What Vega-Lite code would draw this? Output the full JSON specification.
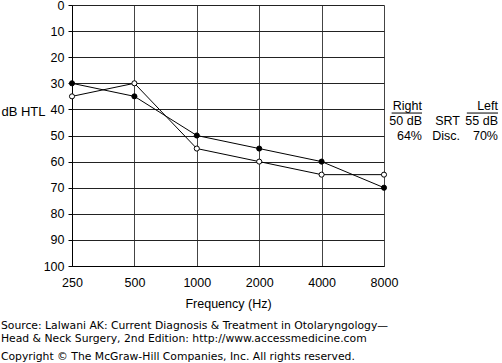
{
  "$schema": "https://vega.github.io/schema/vega-lite/v6.json",
  "padding": {"left": 0, "top": -1, "right": 0, "bottom": 0},
  "bounds": "flush",
  "spacing": 5,
  "config": {"font": "Liberation Sans", "view": {"stroke": null}},
  "title": {
    "text": ["Source: Lalwani AK: Current Diagnosis & Treatment in Otolaryngology—", "Head & Neck Surgery, 2nd Edition: http://www.accessmedicine.com"],
    "subtitle": "Copyright © The McGraw-Hill Companies, Inc. All rights reserved.",
    "orient": "bottom",
    "anchor": "start",
    "font": "DejaVu Sans",
    "fontSize": 10.8,
    "fontWeight": "normal",
    "lineHeight": 13,
    "color": "black",
    "subtitleFont": "DejaVu Sans",
    "subtitleFontSize": 10.8,
    "subtitleColor": "black",
    "subtitlePadding": 7,
    "offset": 10
  },
  "hconcat": [
    {
      "width": 312,
      "height": 261,
      "data": {"values": [
        {"freq": 250, "dB": 30, "ear": "left"},
        {"freq": 500, "dB": 35, "ear": "left"},
        {"freq": 1000, "dB": 50, "ear": "left"},
        {"freq": 2000, "dB": 55, "ear": "left"},
        {"freq": 4000, "dB": 60, "ear": "left"},
        {"freq": 8000, "dB": 70, "ear": "left"},
        {"freq": 250, "dB": 35, "ear": "right"},
        {"freq": 500, "dB": 30, "ear": "right"},
        {"freq": 1000, "dB": 55, "ear": "right"},
        {"freq": 2000, "dB": 60, "ear": "right"},
        {"freq": 4000, "dB": 65, "ear": "right"},
        {"freq": 8000, "dB": 65, "ear": "right"}
      ]},
      "encoding": {
        "x": {
          "field": "freq", "type": "quantitative",
          "scale": {"type": "log", "base": 2, "domain": [250, 8000], "nice": false},
          "axis": {
            "values": [250, 500, 1000, 2000, 4000, 8000], "format": "d",
            "grid": true, "gridColor": "#444", "gridOpacity": 1, "gridWidth": 1,
            "ticks": false, "domainColor": "black", "labelColor": "black",
            "labelFont": "Liberation Sans", "labelFlush": false,
            "labelFontSize": 12.5, "labelPadding": 10,
            "title": "Frequency (Hz)", "titleFont": "Liberation Sans", "titleFontSize": 12.5, "titleFontWeight": "normal",
            "titleColor": "black", "titlePadding": 9
          }
        },
        "y": {
          "field": "dB", "type": "quantitative",
          "scale": {"domain": [0, 100], "reverse": true, "nice": false},
          "axis": {
            "values": [0, 10, 20, 30, 40, 50, 60, 70, 80, 90, 100],
            "grid": true, "gridColor": "#222", "gridOpacity": 1, "gridWidth": 1,
            "tickSize": 4, "tickColor": "black", "domainColor": "black",
            "labelColor": "black", "labelFont": "Liberation Sans", "labelFontSize": 12.5, "labelPadding": 4,
            "title": "dB HTL", "titleAngle": 0, "titleAlign": "right", "titleBaseline": "middle",
            "titleX": -27, "titleY": 106, "titleFont": "Liberation Sans", "titleFontSize": 13, "titleFontWeight": "normal",
            "titleColor": "black"
          }
        }
      },
      "layer": [
        {
          "mark": {"type": "line", "color": "black", "strokeWidth": 1},
          "encoding": {"detail": {"field": "ear"}}
        },
        {
          "mark": {"type": "point", "filled": true, "size": 26, "stroke": "black", "strokeWidth": 1, "opacity": 1},
          "encoding": {
            "fill": {"field": "ear", "type": "nominal", "scale": {"domain": ["left", "right"], "range": ["black", "white"]}, "legend": null}
          }
        }
      ]
    },
    {
      "width": 114,
      "height": 261,
      "layer": [
        {
          "data": {"values": [
            {"col": 1, "row": 1, "t": "Right"},
            {"col": 1, "row": 2, "t": "50 dB"},
            {"col": 1, "row": 3, "t": "64%"},
            {"col": 2, "row": 2, "t": "SRT"},
            {"col": 2, "row": 3, "t": "Disc."},
            {"col": 3, "row": 1, "t": "Left"},
            {"col": 3, "row": 2, "t": "55 dB"},
            {"col": 3, "row": 3, "t": "70%"}
          ]},
          "mark": {"type": "text", "align": "right", "baseline": "middle", "fontSize": 12.5, "font": "Liberation Sans", "color": "black"},
          "encoding": {
            "x": {"field": "col", "type": "quantitative", "scale": {"domain": [0.1316, 3.1316], "nice": false, "zero": false}, "axis": null},
            "y": {"field": "row", "type": "quantitative", "scale": {"domain": [-5.733, 11.667], "reverse": true, "nice": false, "zero": false}, "axis": null},
            "text": {"field": "t"}
          }
        },
        {
          "data": {"values": [
            {"x0": 0.2, "x1": 1.0, "row": 1.47},
            {"x0": 2.18, "x1": 3.0, "row": 1.47}
          ]},
          "mark": {"type": "rule", "color": "black", "strokeWidth": 1},
          "encoding": {
            "x": {"field": "x0", "type": "quantitative", "scale": {"domain": [0.1316, 3.1316], "nice": false, "zero": false}, "axis": null},
            "x2": {"field": "x1"},
            "y": {"field": "row", "type": "quantitative", "scale": {"domain": [-5.733, 11.667], "reverse": true, "nice": false, "zero": false}, "axis": null}
          }
        }
      ]
    }
  ]
}
